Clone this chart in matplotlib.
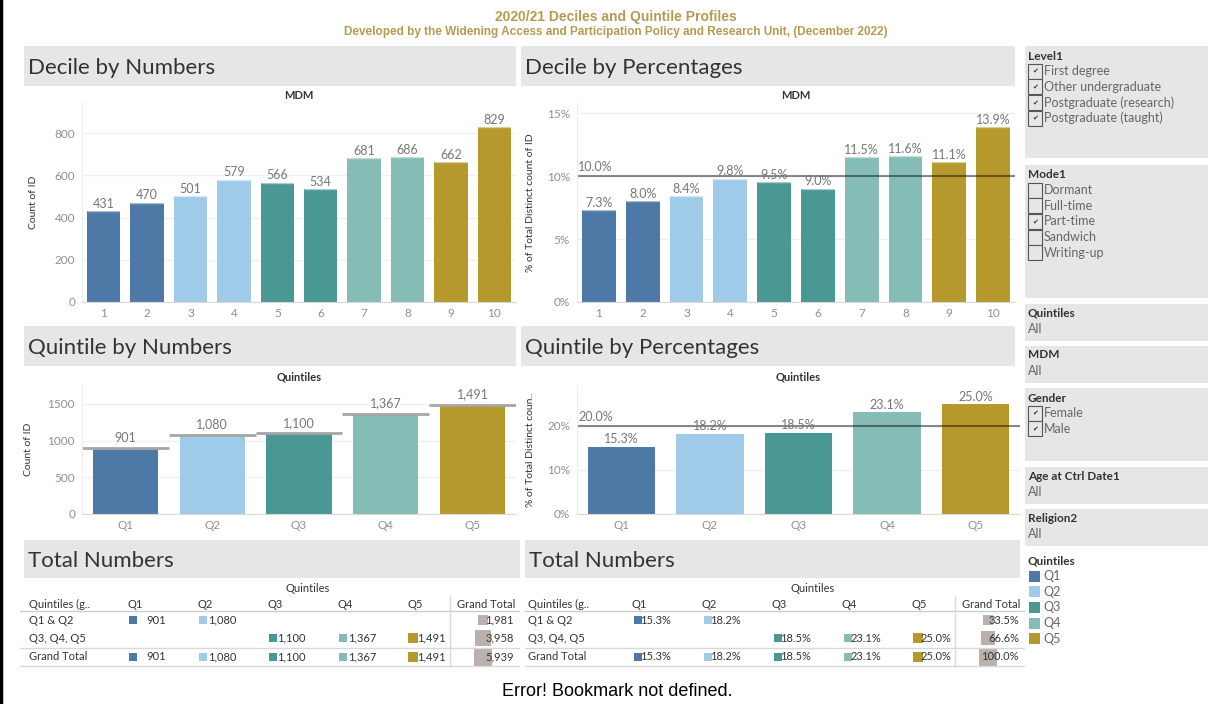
import matplotlib
matplotlib.use("Agg")
import matplotlib.pyplot as plt
from matplotlib.patches import Rectangle

W, H = 1228, 704

# data
deciles = [1, 2, 3, 4, 5, 6, 7, 8, 9, 10]
decile_counts = [431, 470, 501, 579, 566, 534, 681, 686, 662, 829]
decile_pcts = [7.3, 8.0, 8.4, 9.8, 9.5, 9.0, 11.5, 11.6, 11.1, 13.9]
decile_quintile = ["Q1", "Q1", "Q2", "Q2", "Q3", "Q3", "Q4", "Q4", "Q5", "Q5"]
decile_avg_pct = 10.0

quintiles = ["Q1", "Q2", "Q3", "Q4", "Q5"]
quintile_counts = [901, 1080, 1100, 1367, 1491]
quintile_pcts = [15.3, 18.2, 18.5, 23.1, 25.0]
quintile_avg_pct = 20.0

group_names = ["Q1 & Q2", "Q3, Q4, Q5", "Grand Total"]
group_members = [["Q1", "Q2"], ["Q3", "Q4", "Q5"], quintiles]
group_counts = [1981, 3958, 5939]
group_pcts = [33.5, 66.6, 100.0]

level1_items = ["First degree", "Other undergraduate", "Postgraduate (research)", "Postgraduate (taught)"]
level1_checked = [True, True, True, True]
mode1_items = ["Dormant", "Full-time", "Part-time", "Sandwich", "Writing-up"]
mode1_checked = [False, False, True, False, False]
gender_items = ["Female", "Male"]
gender_checked = [True, True]

q_colors = {"Q1": "#4e79a7", "Q2": "#a0cbe8", "Q3": "#499894", "Q4": "#86bcb6", "Q5": "#b6992d"}
gt_color = "#bab0ac"
gold = "#b59a50"
tick_grey = "#8f8f8f"
label_grey = "#777777"
dark = "#333333"
panel_grey = "#e6e6e6"

plt.rcParams["font.family"] = ["Lato", "DejaVu Sans"]

fig = plt.figure(figsize=(W / 100, H / 100), dpi=100)
fig.patch.set_facecolor("white")


def px_axes(x0, y0, x1, y1):
    ax = fig.add_axes([x0 / W, 1 - y1 / H, (x1 - x0) / W, (y1 - y0) / H])
    ax.set_facecolor("none")
    return ax


# background canvas for headers / filter panel
bg = px_axes(0, 0, W, H)
bg.set_xlim(0, W)
bg.set_ylim(H, 0)
bg.axis("off")
bg.plot([1, 1], [0, H], color="black", lw=2.5)

bg.text(616, 17, "2020/21 Deciles and Quintile Profiles", ha="center", va="center",
        fontsize=10, fontweight="bold", color=gold, family=["Liberation Sans"])
bg.text(616, 32, "Developed by the Widening Access and Participation Policy and Research Unit, (December 2022)",
        ha="center", va="center", fontsize=8.5, fontweight="bold", color=gold, family=["Liberation Sans"])
bg.text(617, 692, "Error! Bookmark not defined.", ha="center", va="center", fontsize=13,
        color="black", family=["Liberation Sans"])

headers = [("Decile by Numbers", 24, 46, 516, 86), ("Decile by Percentages", 521, 46, 1015, 86),
           ("Quintile by Numbers", 24, 326, 516, 366), ("Quintile by Percentages", 521, 326, 1015, 366),
           ("Total Numbers", 24, 540, 520, 578), ("Total Numbers", 525, 540, 1020, 578)]
for title, x0, y0, x1, y1 in headers:
    bg.add_patch(Rectangle((x0, y0), x1 - x0, y1 - y0, color=panel_grey, lw=0))
    bg.text(x0 + 4, (y0 + y1) / 2 + 2, title, ha="left", va="center", fontsize=16, color=dark)


def checkbox_filter(y0, y1, title, items, checked):
    bg.add_patch(Rectangle((1025, y0), 183, y1 - y0, color=panel_grey, lw=0))
    bg.text(1028, y0 + 10, title, ha="left", va="center", fontsize=8.5, fontweight="bold", color=dark)
    for i, (item, on) in enumerate(zip(items, checked)):
        y = y0 + 25 + i * 15.7
        bg.add_patch(Rectangle((1028, y - 7.5), 14, 15, facecolor=panel_grey, edgecolor="#555555", lw=0.8))
        if on:
            bg.text(1035, y, "\u2714", ha="center", va="center", fontsize=5, color=dark,
                    family=["DejaVu Sans"])
        bg.text(1044, y, item, ha="left", va="center", fontsize=9, color="#666666")


def all_filter(y0, y1, title):
    bg.add_patch(Rectangle((1025, y0), 183, y1 - y0, color=panel_grey, lw=0))
    bg.text(1028, y0 + 9, title, ha="left", va="center", fontsize=8.5, fontweight="bold", color=dark)
    bg.text(1028, y0 + 25, "All", ha="left", va="center", fontsize=9, color="#666666")


checkbox_filter(46, 158, "Level1", level1_items, level1_checked)
checkbox_filter(165, 298, "Mode1", mode1_items, mode1_checked)
all_filter(304, 341, "Quintiles")
all_filter(346, 383, "MDM")
checkbox_filter(388, 461, "Gender", gender_items, gender_checked)
all_filter(467, 504, "Age at Ctrl Date1")
all_filter(509, 546, "Religion2")

bg.text(1028, 561, "Quintiles", ha="left", va="center", fontsize=8.5, fontweight="bold", color=dark)
for i, q in enumerate(quintiles):
    y = 576 + i * 15.7
    bg.add_patch(Rectangle((1029, y - 5.5), 11, 11, color=q_colors[q], lw=0))
    bg.text(1043, y, q, ha="left", va="center", fontsize=9, color="#666666")


def style_axes(ax, title, ylabel, label_x):
    for s in ["top", "right"]:
        ax.spines[s].set_visible(False)
    ax.spines["bottom"].set_color("#d9d9d9")
    ax.spines["left"].set_color("#eeeeee")
    ax.tick_params(axis="both", length=0, colors=tick_grey, labelsize=8.5)
    ax.tick_params(axis="y", pad=5)
    ax.tick_params(axis="x", pad=4)
    ax.grid(axis="y", color="#f0f0f0", lw=1)
    ax.set_axisbelow(True)
    ax.set_title(title, fontsize=8, fontweight="bold", color=dark, pad=3)
    ax.set_ylabel(ylabel, fontsize=7.5, color=dark)
    ax.yaxis.set_label_coords(label_x, 0.5)


def bar_labels(ax, x, vals, texts, offset):
    for xi, v, t in zip(x, vals, texts):
        ax.annotate(t, (xi, v), xytext=(0, offset), textcoords="offset points",
                    ha="center", va="bottom", fontsize=9, color=label_grey)


decile_cols = [q_colors[q] for q in decile_quintile]
quint_cols = [q_colors[q] for q in quintiles]

# Decile by numbers
ax1 = px_axes(82, 103, 516, 302)
ax1.bar(deciles, decile_counts, width=0.77, color=decile_cols)
ax1.hlines(decile_counts, [d - 0.385 for d in deciles], [d + 0.385 for d in deciles],
           colors="white", alpha=0.5, lw=1)
ax1.set_xlim(0.5, 10.5)
ax1.set_ylim(0, 943)
ax1.set_yticks([0, 200, 400, 600, 800])
ax1.set_xticks(deciles)
style_axes(ax1, "MDM", "Count of ID", -0.101)
bar_labels(ax1, deciles, decile_counts, [str(v) for v in decile_counts], 1)

# Decile by percentages
ax2 = px_axes(577, 103, 1015, 302)
ax2.bar(deciles, decile_pcts, width=0.77, color=decile_cols)
ax2.hlines(decile_pcts, [d - 0.385 for d in deciles], [d + 0.385 for d in deciles],
           colors="white", alpha=0.5, lw=1)
ax2.axhline(decile_avg_pct, color="black", alpha=0.45, lw=1.5)
ax2.annotate(f"{decile_avg_pct:.1f}%", (0.5, decile_avg_pct), xytext=(1, 2), textcoords="offset points",
             ha="left", va="bottom", fontsize=9, color=label_grey)
ax2.set_xlim(0.5, 10.5)
ax2.set_ylim(0, 15.8)
ax2.set_yticks([0, 5, 10, 15])
ax2.set_yticklabels(["0%", "5%", "10%", "15%"])
ax2.set_xticks(deciles)
style_axes(ax2, "MDM", "% of Total Distinct count of ID", -0.096)
bar_labels(ax2, deciles, decile_pcts, [f"{v:.1f}%" for v in decile_pcts], 1)

# Quintile by numbers
qx = [1, 2, 3, 4, 5]
ax3 = px_axes(82, 385, 516, 514)
ax3.bar(qx, quintile_counts, width=0.75, color=quint_cols)
ax3.hlines(quintile_counts, [x - 0.5 for x in qx], [x + 0.5 for x in qx], colors="#a6a6a6", lw=2)
ax3.set_xlim(0.5, 5.5)
ax3.set_ylim(0, 1757)
ax3.set_yticks([0, 500, 1000, 1500])
ax3.set_xticks(qx)
ax3.set_xticklabels(quintiles)
style_axes(ax3, "Quintiles", "Count of ID", -0.113)
bar_labels(ax3, qx, quintile_counts, [f"{v:,}" for v in quintile_counts], 3)

# Quintile by percentages
ax4 = px_axes(577, 385, 1020, 514)
ax4.bar(qx, quintile_pcts, width=0.76, color=quint_cols)
ax4.axhline(quintile_avg_pct, color="black", alpha=0.45, lw=1.5)
ax4.annotate(f"{quintile_avg_pct:.1f}%", (0.5, quintile_avg_pct), xytext=(1, 2), textcoords="offset points",
             ha="left", va="bottom", fontsize=9, color=label_grey)
ax4.set_xlim(0.5, 5.5)
ax4.set_ylim(0, 29.3)
ax4.set_yticks([0, 10, 20])
ax4.set_yticklabels(["0%", "10%", "20%"])
ax4.set_xticks(qx)
ax4.set_xticklabels(quintiles)
style_axes(ax4, "Quintiles", "% of Total Distinct coun..", -0.095)
bar_labels(ax4, qx, quintile_pcts, [f"{v:.1f}%" for v in quintile_pcts], 1)


def draw_table(x0, row_x, values, gt_values, fmt, size_of):
    ax = px_axes(x0, 580, x0 + 500, 668)
    ax.set_xlim(0, 500)
    ax.set_ylim(88, 0)
    ax.axis("off")
    col_x = [107 + 70 * j for j in range(5)]
    row_y = [40, 58, 77]
    ax.text(288, 9, "Quintiles", ha="center", va="center", fontsize=8, color=dark)
    ax.text(row_x, 24, "Quintiles (g..", ha="left", va="center", fontsize=8, color=dark)
    for j, q in enumerate(quintiles):
        ax.text(col_x[j], 24, q, ha="left", va="center", fontsize=8, color=dark)
    ax.text(495, 24, "Grand Total", ha="right", va="center", fontsize=8, color=dark)
    ax.plot([0, 500], [31, 31], color="#cccccc", lw=1)
    ax.plot([0, 500], [68, 68], color="#d9d9d9", lw=1)
    ax.plot([0, 500], [86, 86], color="#d9d9d9", lw=1)
    ax.plot([430, 430], [16, 88], color="#d9d9d9", lw=1)
    for i, (name, members) in enumerate(zip(group_names, group_members)):
        y = row_y[i]
        ax.text(row_x, y, name, ha="left", va="center", fontsize=8, color=dark)
        for j, q in enumerate(quintiles):
            if q in members:
                ax.scatter(col_x[j] + 6, y, s=size_of(values[j]), marker="s", color=q_colors[q], lw=0)
                ax.text(col_x[j] + 39, y, fmt(values[j]), ha="right", va="center", fontsize=8, color=dark)
        ax.scatter(463, y, s=size_of(gt_values[i]), marker="s", color=gt_color, lw=0)
        ax.text(494, y, fmt(gt_values[i]), ha="right", va="center", fontsize=8, color=dark)


draw_table(20, 9, quintile_counts, group_counts, lambda v: f"{v:,}", lambda v: v * 0.03)
draw_table(525, 3, quintile_pcts, group_pcts, lambda v: f"{v:.1f}%", lambda v: v * 1.68)

fig.savefig("out.png", dpi=100, facecolor="white")
